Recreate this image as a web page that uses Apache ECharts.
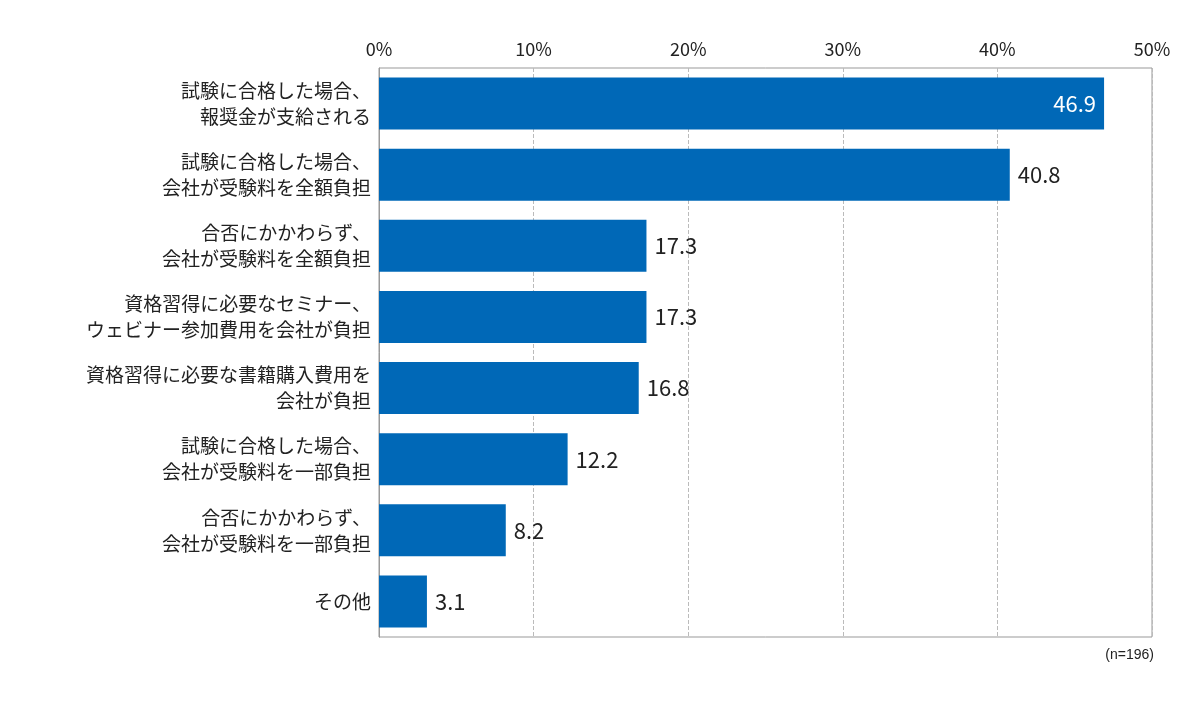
<!DOCTYPE html>
<html><head><meta charset="utf-8">
<script src="https://cdn.jsdelivr.net/npm/echarts@6/dist/echarts.min.js"></script>
<style>html,body{margin:0;padding:0;background:#fff}#c{width:1200px;height:710px}</style>
</head><body><div id="c"></div>
<script>
const categories = ["試験に合格した場合、\n報奨金が支給される","試験に合格した場合、\n会社が受験料を全額負担","合否にかかわらず、\n会社が受験料を全額負担","資格習得に必要なセミナー、\nウェビナー参加費用を会社が負担","資格習得に必要な書籍購入費用を\n会社が負担","試験に合格した場合、\n会社が受験料を一部負担","合否にかかわらず、\n会社が受験料を一部負担","その他"];
const values = [46.9,40.8,17.3,17.3,16.8,12.2,8.2,3.1];
const font = '"Noto Sans CJK JP","Noto Sans",sans-serif';
const chart = echarts.init(document.getElementById('c'));
chart.setOption({
  animation:false,
  textStyle:{fontFamily:font},
  grid:{left:379,right:48,top:68,bottom:73,show:true,borderColor:'#999',borderWidth:1},
  xAxis:{type:'value',min:0,max:50,interval:10,position:'top',
    axisLabel:{formatter:'{value}%',fontSize:18,color:'#222',margin:10,fontFamily:font},
    axisLine:{show:false},axisTick:{show:false},
    splitLine:{lineStyle:{type:'dashed',color:'#bbb'}}},
  yAxis:{type:'category',data:categories,inverse:true,
    axisLabel:{fontSize:19,color:'#222',lineHeight:26,margin:8,fontFamily:font},
    axisLine:{lineStyle:{color:'#999'}},axisTick:{show:false}},
  series:[{type:'bar',data:values.map((v,i)=>({value:v,label:i===0?{position:'insideRight',color:'#fff'}:{}})),
    barWidth:'73%',itemStyle:{color:'#0068b7'},
    label:{show:true,position:'right',fontSize:22,color:'#222',distance:8,fontFamily:font}}],
  graphic:[{type:'text',right:46,top:648,style:{text:'(n=196)',fontSize:14,fill:'#222',font:'14px '+font}}]
});
</script></body></html>
